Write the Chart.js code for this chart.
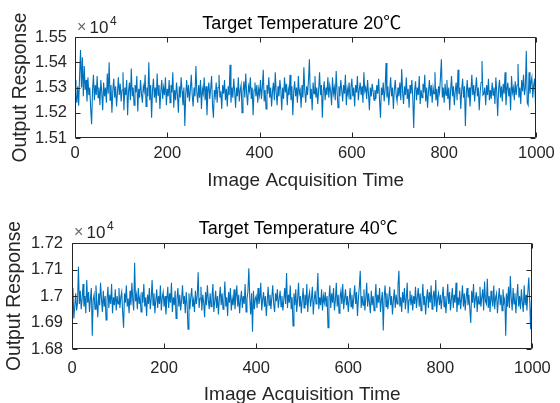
<!DOCTYPE html>
<html><head><meta charset="utf-8">
<script src="https://cdn.jsdelivr.net/npm/chart.js@4.4.0/dist/chart.umd.min.js"></script>
<style>
html,body{margin:0;padding:0;background:#fff;overflow:hidden;width:560px;height:403px}
canvas{position:absolute;left:0}
#c1{top:0}
#c2{top:200px}
</style></head><body>
<canvas id="c1" width="560" height="200" style="width:560px;height:200px"></canvas>
<canvas id="c2" width="560" height="220" style="width:560px;height:220px"></canvas>
<script>
// ---- data (sample every 2nd acquisition) ----
const titles = ['Target Temperature 20\u2103', 'Target Temperature 40\u2103'];
const xLabel = 'Image Acquisition Time';
const yLabel = 'Output Response';
const xTicks = [0, 200, 400, 600, 800, 1000];
const yTicks20 = [15100, 15200, 15300, 15400, 15500];
const yTicks40 = [16800, 16900, 17000, 17100, 17200];

const resp20 = [
15330,15270,15240,15305,15228,15350,15448,15300,15420,15265,15385,15290,15330,15245,15340,15270,15300,15215,15155,15290,15350,15250,15310,15270,15345,
15260,15300,15230,15330,15280,15210,15320,15265,15300,15240,15355,15275,15400,15250,15310,15200,15290,15335,15260,15305,15225,15280,15340,15270,15315,
15245,15290,15360,15210,15300,15270,15330,15190,15285,15320,15250,15375,15265,15300,15230,15310,15280,15345,15205,15295,15260,15330,15275,15240,15305,
15285,15350,15225,15300,15265,15400,15250,15310,15180,15290,15335,15260,15300,15240,15355,15270,15310,15215,15285,15330,15255,15300,15270,15340,15230,
15295,15265,15330,15240,15310,15280,15360,15220,15290,15250,15320,15270,15200,15305,15260,15340,15285,15230,15300,15148,15275,15330,15260,15310,15245,
15290,15350,15270,15225,15300,15265,15385,15280,15240,15310,15260,15330,15215,15295,15275,15340,15250,15305,15190,15280,15320,15255,15295,15345,15230,
15180,15290,15265,15320,15240,15300,15350,15260,15285,15215,15310,15275,15330,15250,15295,15225,15305,15270,15390,15240,15300,15260,15335,15285,15220,
15300,15265,15340,15245,15290,15310,15200,15280,15325,15260,15355,15275,15230,15305,15285,15340,15255,15300,15190,15290,15320,15265,15310,15240,15295,
15270,15330,15255,15300,15370,15245,15290,15215,15310,15275,15340,15260,15300,15225,15285,15320,15250,15360,15280,15230,15305,15265,15330,15290,15210,
15300,15255,15340,15280,15315,15230,15295,15270,15350,15250,15305,15190,15285,15325,15265,15300,15240,15345,15275,15290,15220,15310,15260,15380,15285,
15240,15305,15270,15330,15412,15255,15295,15210,15320,15275,15345,15260,15300,15235,15290,15360,15270,15310,15180,15285,15325,15250,15300,15270,15340,
15260,15310,15285,15230,15340,15275,15300,15250,15365,15280,15220,15305,15265,15330,15290,15245,15310,15275,15350,15230,15295,15270,15320,15255,15300,
15335,15265,15300,15225,15310,15280,15345,15250,15290,15320,15270,15305,15240,15360,15285,15300,15255,15330,15275,15210,15300,15265,15315,15285,15250,
15290,15255,15310,15275,15335,15250,15180,15300,15270,15320,15245,15290,15397,15260,15305,15230,15285,15340,15265,15300,15215,15290,15330,15270,15245,
15300,15265,15320,15250,15373,15280,15235,15305,15270,15340,15255,15295,15220,15310,15275,15330,15260,15140,15290,15325,15250,15300,15270,15345,15235,
15290,15260,15315,15280,15350,15245,15300,15220,15285,15330,15265,15310,15240,15300,15275,15360,15250,15295,15225,15305,15280,15340,15412,15260,15300,
15240,15315,15270,15330,15255,15300,15210,15290,15345,15265,15305,15230,15285,15320,15250,15370,15275,15300,15215,15290,15335,15260,15305,15148,15280,
15330,15260,15300,15225,15285,15350,15270,15310,15245,15295,15340,15265,15300,15210,15280,15320,15405,15270,15275,15300,15230,15310,15270,15335,15250,
15290,15255,15320,15270,15300,15235,15340,15280,15187,15295,15330,15260,15305,15245,15315,15275,15360,15230,15290,15320,15265,15300,15210,15345,15280,
15300,15250,15325,15270,15310,15393,15260,15300,15235,15330,15285,15350,15270,15300,15445,15240,15230,15360,15275,15320,15340,15260,15310,15335,15230
];

const resp40 = [
16995,17030,16915,16960,17010,16945,16975,17110,16970,17020,16950,16990,17045,16960,17000,16935,17060,16975,17015,16940,16990,17030,16850,16985,17005,
16950,17040,16975,16920,17010,16965,17050,16990,16940,17020,16960,17000,16910,16985,17035,16955,17005,16970,17045,16935,16995,16965,17025,16945,17000,
16970,17030,16955,16995,17015,16940,16880,17010,16975,17040,16960,16990,16935,17020,16965,17050,16985,16945,17125,16980,17005,16950,17030,16970,16995,
16940,17015,16975,17045,16960,16995,16925,17005,16970,17030,16950,16990,17060,16965,17010,16935,16985,17025,16955,17000,16970,17040,16945,16995,17015,
16960,17000,16930,16985,17035,16955,17010,16975,17050,16940,16995,16965,17020,16915,16990,17030,16960,17005,16945,16985,17040,16970,17000,16935,17015,
16965,16875,17010,16950,16995,17030,16960,16985,16940,17020,16970,17000,17090,16955,16990,17035,16945,17005,16975,16920,17015,16965,17040,16985,16950,
17010,16960,16995,17045,16940,16980,17020,16955,17000,16930,16990,17035,16965,17010,16950,16985,17055,16960,16995,16925,17015,16975,17030,16945,16990,
16965,17025,16950,16995,17040,16960,17005,16935,16985,17020,16955,17000,16970,17045,16940,16990,17015,17105,16995,16930,17010,16865,17020,16950,16990,
17000,16955,17030,16970,16990,17050,16945,16985,17015,16960,17000,16925,16980,17035,16965,17005,16950,16995,17040,16970,16940,17010,16980,17025,16955,
16990,17020,16960,17000,16945,16985,17030,16970,17087,16955,17005,16975,17040,16950,16995,16887,17010,16965,17025,16940,16990,17050,16960,17000,16935,
16985,17030,16955,17005,16965,17045,16940,16995,17015,16960,16990,17035,16930,16985,17020,16970,17005,17087,16950,16995,16965,17025,16945,17000,16975,
17015,16960,17000,16880,16990,17040,16955,17010,16975,17030,16945,16985,17050,16960,17005,16935,16995,17020,16970,17045,16950,16990,17025,16965,17000,
16940,16985,17030,16960,17005,16950,16995,17040,16970,17015,16925,16990,17035,17095,16955,17000,16965,17025,16945,16990,17050,16960,17010,16975,16935,
17020,16965,17000,16945,16990,17045,16955,17005,16975,17030,16940,16985,17015,16870,16995,17040,16960,17010,16950,16990,17035,16965,17000,16930,16985,
17025,16955,17005,16970,17040,17095,16960,16995,16940,17015,16975,17030,16950,16990,17050,16935,16985,17020,16965,17005,16945,17000,16970,17035,16955,
16995,17030,16960,17010,16945,16985,17045,16965,17000,16930,16990,17025,16955,17015,16975,17040,16950,16995,17020,16960,17060,16940,16990,17010,16965,
17005,16950,16995,17035,16960,17000,16935,16985,17045,16970,17015,16945,16990,17030,16955,17005,16975,17050,16940,16995,16965,17020,16950,16990,17040,
16960,17010,16945,16995,17030,16965,17005,16950,16898,17020,16975,17045,16955,16990,17015,16940,17000,16970,17035,16960,16995,17025,16945,17055,16980,
16970,17065,16955,17000,16940,17020,16985,16960,17040,16950,16995,17010,16935,16990,17030,16965,17005,16945,17025,16975,16990,16850,17010,16960,17035,
16955,17075,16990,16945,17030,16970,17010,16935,16995,17045,16960,17000,16950,17025,16975,16940,17040,16965,17005,16945,17015,17070,16985,16875,16990
];
// acquisition index of each stored sample (every 2nd frame)
const acqTime = resp20.map((_, i) => i * 2);

// ---- drawing ----
const AX = '#262626';
const FONT = '"Liberation Sans", Arial, Helvetica, sans-serif';

function matlabPlugin(cfg) {
  return {
    id: 'matlabBox' + cfg.id,
    afterDatasetsDraw(chart) {
      const {ctx, chartArea: a, scales: {x, y}} = chart;
      ctx.save();
      ctx.strokeStyle = AX;
      ctx.lineWidth = 1;
      const L = Math.round(a.left) + 0.5, R = Math.round(a.right) - 0.5;
      const T = Math.round(a.top) + 0.5, B = Math.round(a.bottom) - 0.5;
      ctx.beginPath();
      ctx.rect(L, T, R - L, B - T);
      const tl = 5;
      x.ticks.forEach(t => {
        const px = Math.round(x.getPixelForValue(t.value)) + 0.5;
        ctx.moveTo(px, B); ctx.lineTo(px, B - tl);
        ctx.moveTo(px, T); ctx.lineTo(px, T + tl);
      });
      y.ticks.forEach(t => {
        const py = Math.round(y.getPixelForValue(t.value)) + 0.5;
        ctx.moveTo(L, py); ctx.lineTo(L + tl, py);
        ctx.moveTo(R, py); ctx.lineTo(R - tl, py);
      });
      ctx.stroke();
      ctx.restore();
    },
    afterDraw(chart) {
      const {ctx, chartArea: a} = chart;
      ctx.save();
      // title
      ctx.fillStyle = '#000';
      ctx.font = '18px ' + FONT + ', "Noto Sans CJK SC"';
      ctx.textAlign = 'center';
      ctx.textBaseline = 'alphabetic';
      ctx.fillText(cfg.title, (a.left + a.right) / 2 - 4, cfg.titleY);
      // exponent  x10^4
      ctx.textAlign = 'left';
      ctx.fillStyle = '#666';
      ctx.font = '16px ' + FONT;
      ctx.fillText('\u00d7', cfg.expX, cfg.expY - 1);
      ctx.fillStyle = AX;
      ctx.font = '17px ' + FONT;
      ctx.fillText('10', cfg.expX + 12.5, cfg.expY);
      const w = ctx.measureText('10').width;
      ctx.font = '12px ' + FONT;
      ctx.fillText('4', cfg.expX + 12.5 + w + 1.5, cfg.expY - 8);
      ctx.restore();
    }
  };
}

function makeChart(id, values, yTicks, cfg) {
  const pts = values.map((v, i) => ({x: acqTime[i], y: v}));
  return new Chart(document.getElementById(id), {
    type: 'line',
    data: { datasets: [{ data: pts, borderColor: '#0072BD', borderWidth: 1.1, pointRadius: 0, tension: 0, fill: false }] },
    options: {
      responsive: false,
      animation: false,
      devicePixelRatio: 1,
      layout: { padding: cfg.padding },
      plugins: { legend: { display: false }, tooltip: { enabled: false }, title: { display: false } },
      scales: {
        x: {
          type: 'linear',
          min: xTicks[0], max: xTicks[xTicks.length - 1],
          afterBuildTicks: s => { s.ticks = xTicks.map(v => ({value: v})); },
          grid: { display: false, drawTicks: false },
          border: { display: false },
          ticks: { color: AX, font: { family: FONT, size: 16.5 }, padding: cfg.xTickPad, maxRotation: 0, autoSkip: false,
                   callback: v => String(v) },
          title: { display: true, text: xLabel, color: AX, font: { family: FONT, size: 19 }, padding: { top: 0, bottom: cfg.xTitlePad } },
          afterFit: s => { s.height = cfg.xHeight; }
        },
        y: {
          type: 'linear',
          min: yTicks[0], max: yTicks[yTicks.length - 1],
          afterBuildTicks: s => { s.ticks = yTicks.map(v => ({value: v})); },
          grid: { display: false, drawTicks: false },
          border: { display: false },
          ticks: { color: AX, font: { family: FONT, size: 16.5 }, padding: cfg.yTickPad,
                   callback: v => String(+(v / 1e4).toFixed(4)) },
          title: { display: true, text: yLabel, color: AX, font: { family: FONT, size: 19.3 }, padding: { top: cfg.yTitlePad, bottom: 0 } },
          afterFit: s => { s.width = cfg.yWidth; }
        }
      }
    },
    plugins: [matlabPlugin(cfg)]
  });
}

makeChart('c1', resp20, yTicks20, {
  id: 1, title: titles[0], titleY: 29, expX: 77, expY: 33,
  padding: { left: 0, right: 23, top: 37, bottom: 0 },
  yWidth: 75, xHeight: 62, xTickPad: 5.2, yTickPad: 8, xTitlePad: 7.6, yTitlePad: 8.6
});
makeChart('c2', resp40, yTicks40, {
  id: 2, title: titles[1], titleY: 34, expX: 74, expY: 38,
  padding: { left: 0, right: 21, top: 43, bottom: 0 },
  yWidth: 72, xHeight: 71, xTickPad: 9.2, yTickPad: 9, xTitlePad: 13.6, yTitlePad: 2.6
});
</script>
</body></html>
